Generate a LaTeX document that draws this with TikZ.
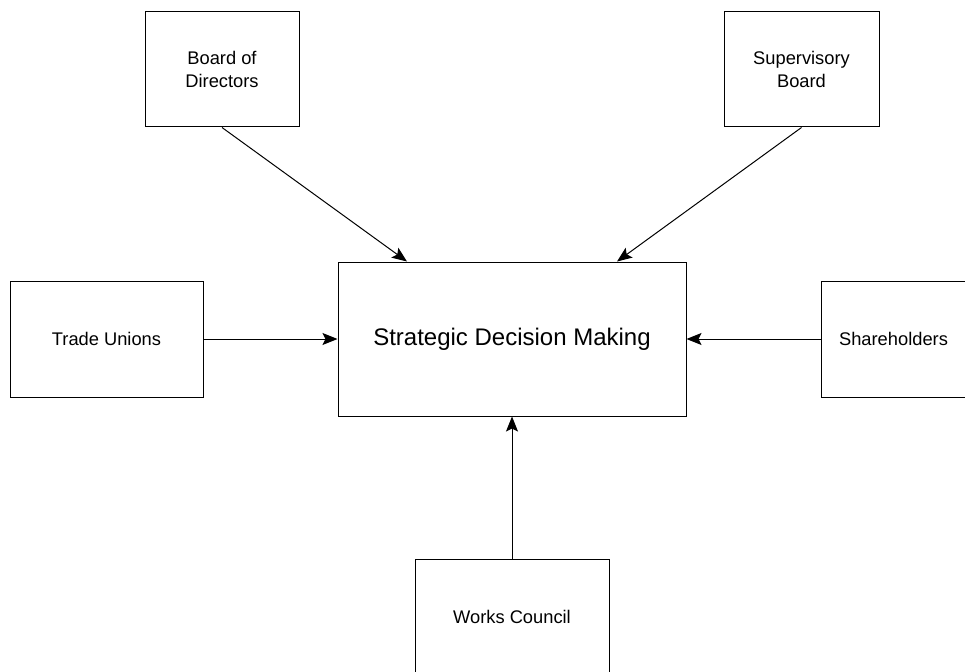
\documentclass[tikz,border=0pt]{standalone}
\usepackage{fontspec}
\setmainfont{Liberation Sans}
\usetikzlibrary{arrows.meta,positioning}

\begin{document}
\begin{tikzpicture}[
  x=1pt,y=-1pt,
  box/.style={draw,line width=1pt,align=center,inner sep=0pt,font=\fontsize{18.3}{22.5}\selectfont},
  mainbox/.style={box,font=\fontsize{24}{29}\selectfont},
  arr/.style={-{Stealth[length=15pt,width=12pt,inset=3pt]},line width=1pt}
]
\useasboundingbox (0,0) rectangle (965,671);
\node[mainbox,minimum width=348pt,minimum height=154pt] (sdm) at (512,339) {Strategic Decision Making};
\node[box,minimum width=154pt,minimum height=115pt] (board) at (222,69.5) {Board of\\Directors};
\node[box,minimum width=155pt,minimum height=115pt] (superv) at (801.5,69.5) {Supervisory\\Board};
\node[box,minimum width=193pt,minimum height=116pt] (unions) at (106.5,339) {Trade Unions};
\node[box,minimum width=145pt,minimum height=116pt] (share) at (893.5,339) {Shareholders};
\node[box,minimum width=194pt,minimum height=116pt] (works) at (512,617) {Works Council};
\draw[arr] (board.south) -- ([xshift=-105pt]sdm.north);
\draw[arr] (superv.south) -- ([xshift=105pt]sdm.north);
\draw[arr] (unions.east) -- (sdm.west);
\draw[arr] (share.west) -- (sdm.east);
\draw[arr] (works.north) -- (sdm.south);
\end{tikzpicture}
\end{document}
